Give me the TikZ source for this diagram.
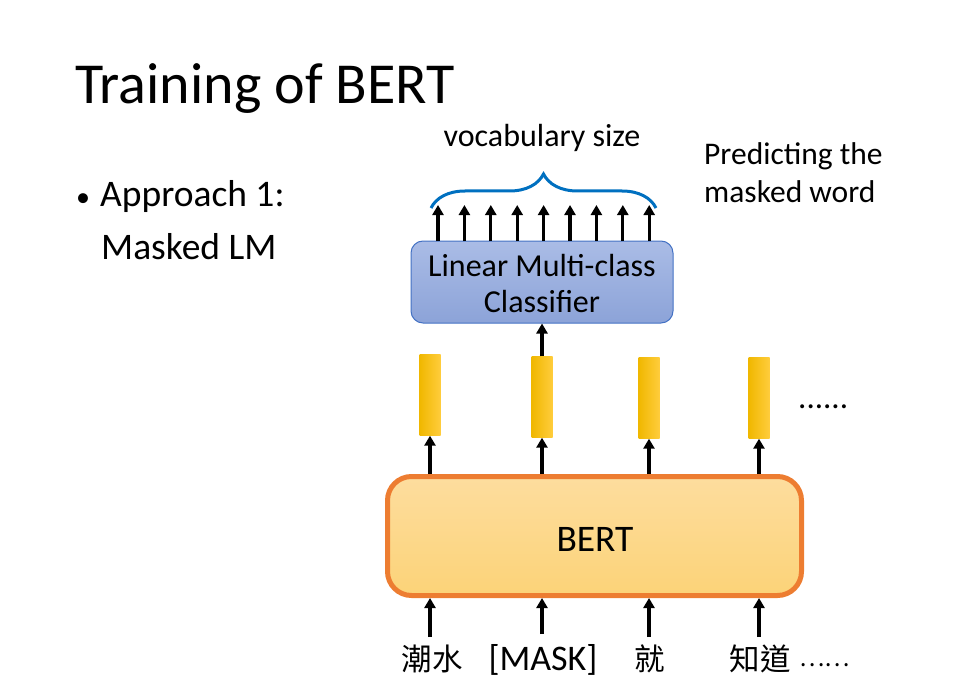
\documentclass[tikz,border=0pt]{standalone}
\usepackage{fontspec}
\setmainfont{Carlito}
\newfontfamily\cjk{Noto Sans CJK TC}
\usetikzlibrary{arrows.meta,decorations.pathreplacing,calc}
\definecolor{bertedge}{RGB}{237,125,49}
\definecolor{berttop}{RGB}{253,221,158}
\definecolor{bertbot}{RGB}{252,211,120}
\definecolor{clstop}{RGB}{170,188,230}
\definecolor{clsbot}{RGB}{140,163,216}
\definecolor{clsedge}{RGB}{68,114,196}
\definecolor{braceblue}{RGB}{0,112,192}
\definecolor{ylwL}{RGB}{240,184,0}
\definecolor{ylwR}{RGB}{255,205,60}
\tikzset{
  arr/.style={line width=3.2pt,-{Triangle[length=10pt,width=11pt]}},
  vec/.style={minimum width=21pt,minimum height=81pt,inner sep=0pt,left color=ylwL,right color=ylwR,draw=none},
  lbl/.style={inner sep=0pt,font=\fontsize{36}{40}\selectfont},
}
\begin{document}
\begin{tikzpicture}[x=1pt,y=-1pt]
\useasboundingbox (0,0) rectangle (959,698);
\node[anchor=base west,inner sep=0pt,font=\fontsize{58}{60}\selectfont] (title) at (75,104) {Training of BERT};
\node[anchor=base west,inner sep=0pt,font=\fontsize{28}{40}\selectfont] (bul) at (76,206) {\textbullet};
\node[anchor=base west,inner sep=0pt,font=\fontsize{37.5}{40}\selectfont] (ap) at (100,207) {Approach 1:};
\node[anchor=base west,inner sep=0pt,font=\fontsize{37.5}{40}\selectfont] (mlm) at (101,259) {Masked LM};
\node[anchor=base,inner sep=0pt,font=\fontsize{32}{34}\selectfont] (voc) at (542,147) {vocabulary size};
\node[anchor=base west,inner sep=0pt,font=\fontsize{31.5}{34}\selectfont] (pred1) at (704,165) {Predicting the};
\node[anchor=base west,inner sep=0pt,font=\fontsize{31.5}{34}\selectfont] (pred2) at (704,202) {masked word};
% classifier
\node[draw=clsedge,line width=1pt,rounded corners=12pt,top color=clstop,bottom color=clsbot,
  minimum width=262pt,minimum height=82pt] (cls) at (542,282) {};
\node[anchor=base,inner sep=0pt,font=\fontsize{32}{34}\selectfont] (cls1) at (542,276) {Linear Multi-class};
\node[anchor=base,inner sep=0pt,font=\fontsize{32}{34}\selectfont] (cls2) at (542,312) {Classifier};
% brace
\draw[braceblue,line width=3pt,decorate,decoration={brace,amplitude=34pt,aspect=0.5}] (431,208) -- (656,208);
% output arrows
\foreach \i in {0,...,8}{
  \coordinate (o\i) at ({438+26.4*\i},205);
  \draw[arr] ({438+26.4*\i},241) -- (o\i);
}
% vectors
\node[vec] (v1) at (430,395) {};
\node[vec] (v2) at (542,397) {};
\node[vec] (v3) at (649,398) {};
\node[vec] (v4) at (759,398) {};
\node[anchor=base west,inner sep=0pt,font=\fontsize{33}{36}\selectfont] (dots) at (798,408) {......};
\draw[arr] (v2.north) -- (cls.south);
% BERT
\node[draw=bertedge,line width=5pt,rounded corners=24pt,top color=berttop,bottom color=bertbot,
  minimum width=414pt,minimum height=119pt] (bert) at (594.5,536) {};
\node[font=\fontsize{37.5}{40}\selectfont,anchor=base,inner sep=0pt] (bertt) at (595,551) {BERT};
\foreach \v in {v1,v2,v3,v4}{
  \draw[arr] (bert.north -| \v.south) -- (\v.south);
}
% inputs
\node[anchor=base,inner sep=0pt,font=\fontsize{30.5}{34}\selectfont] (w1) at (432,670) {\cjk 潮水};
\node[lbl,anchor=base] (w2) at (543,670) {[MASK]};
\node[anchor=base,inner sep=0pt,font=\fontsize{30.5}{34}\selectfont] (w3) at (650,670) {\cjk 就};
\node[anchor=base,inner sep=0pt,font=\fontsize{30.5}{34}\selectfont] (w4) at (760,670) {\cjk 知道};
\node[anchor=base west,inner sep=0pt,font=\fontsize{24}{28}\selectfont] (w5) at (799,666) {\cjk ……};
\coordinate (a1) at (430,637);
\coordinate (a2) at (542,634);
\coordinate (a3) at (649,637);
\coordinate (a4) at (759,637);
\foreach \i in {1,...,4}{
  \draw[arr] (a\i) -- (bert.south -| a\i);
}
\end{tikzpicture}
\end{document}
